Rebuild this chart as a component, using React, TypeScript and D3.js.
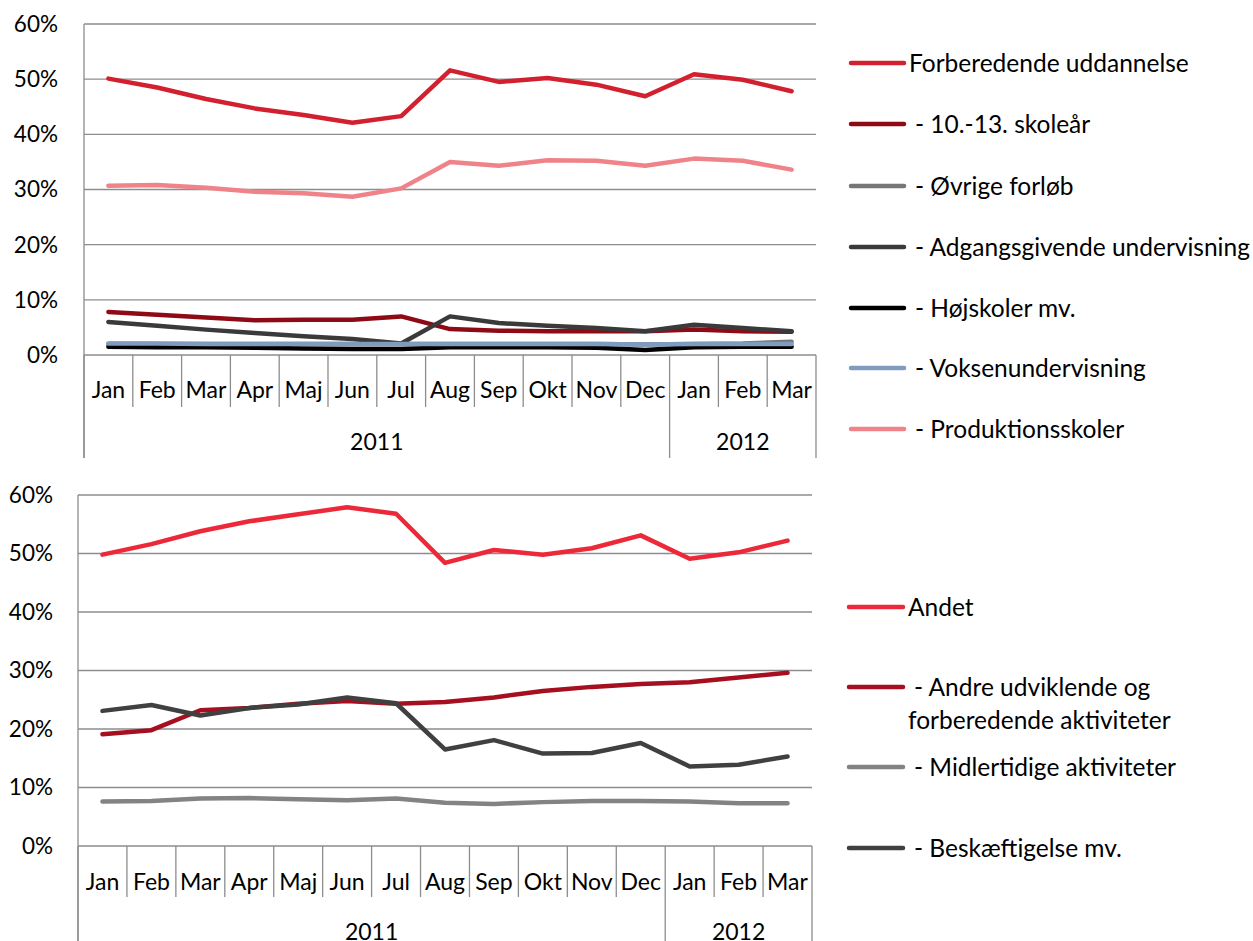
import React from "react";
import * as d3 from "d3";

const months = ["Jan", "Feb", "Mar", "Apr", "Maj", "Jun", "Jul", "Aug", "Sep", "Okt", "Nov", "Dec", "Jan", "Feb", "Mar"];
const years = [
  { label: "2011", start: 0, end: 12 },
  { label: "2012", start: 12, end: 15 },
];
const yTicks = [0, 10, 20, 30, 40, 50, 60];

// Top chart series (percent)
const forberedende = [50.1, 48.5, 46.4, 44.7, 43.5, 42.1, 43.3, 51.6, 49.5, 50.2, 49.0, 46.9, 50.9, 49.9, 47.8];
const skolear = [7.8, 7.3, 6.8, 6.3, 6.4, 6.4, 7.0, 4.7, 4.4, 4.3, 4.3, 4.3, 4.6, 4.3, 4.2];
const ovrige = [2.0, 2.0, 2.0, 2.0, 2.0, 2.0, 2.0, 2.0, 2.0, 2.0, 2.0, 1.9, 2.0, 2.1, 2.4];
const adgangs = [6.0, 5.3, 4.6, 4.0, 3.4, 2.9, 2.1, 7.0, 5.8, 5.3, 4.9, 4.3, 5.5, 4.9, 4.3];
const hojskoler = [1.5, 1.4, 1.4, 1.3, 1.2, 1.1, 1.1, 1.4, 1.4, 1.4, 1.3, 0.9, 1.4, 1.5, 1.5];
const voksen = [2.1, 2.1, 2.0, 2.0, 2.0, 2.0, 2.0, 2.0, 2.0, 2.0, 2.0, 1.9, 2.0, 2.0, 2.0];
const produktion = [30.7, 30.8, 30.3, 29.6, 29.3, 28.7, 30.2, 35.0, 34.3, 35.3, 35.2, 34.3, 35.6, 35.2, 33.6];

// Bottom chart series (percent)
const andet = [49.8, 51.6, 53.8, 55.5, 56.7, 57.9, 56.8, 48.4, 50.6, 49.8, 50.9, 53.1, 49.1, 50.2, 52.2];
const andre = [19.1, 19.8, 23.2, 23.6, 24.3, 24.8, 24.3, 24.6, 25.4, 26.5, 27.2, 27.7, 28.0, 28.8, 29.6];
const midlertidige = [7.6, 7.7, 8.1, 8.2, 8.0, 7.8, 8.1, 7.4, 7.2, 7.5, 7.7, 7.7, 7.6, 7.3, 7.3];
const beskaeftigelse = [23.1, 24.1, 22.3, 23.6, 24.2, 25.4, 24.4, 16.5, 18.1, 15.8, 15.9, 17.6, 13.6, 13.9, 15.3];

type Series = { name: string[]; values: number[]; color: string; legendY: number };

const topSeries: Series[] = [
  { name: ["Forberedende uddannelse"], values: forberedende, color: "#d2202f", legendY: 63 },
  { name: ["- 10.-13. skoleår"], values: skolear, color: "#8e0b16", legendY: 124 },
  { name: ["- Øvrige forløb"], values: ovrige, color: "#767676", legendY: 186 },
  { name: ["- Adgangsgivende undervisning"], values: adgangs, color: "#3a3a3a", legendY: 247 },
  { name: ["- Højskoler mv."], values: hojskoler, color: "#000000", legendY: 308 },
  { name: ["- Voksenundervisning"], values: voksen, color: "#7f9bc0", legendY: 368 },
  { name: ["- Produktionsskoler"], values: produktion, color: "#ef8389", legendY: 429 },
];

const bottomSeries: Series[] = [
  { name: ["Andet"], values: andet, color: "#ec2939", legendY: 607 },
  { name: ["- Andre udviklende og", "forberedende aktiviteter"], values: andre, color: "#a50f1f", legendY: 687 },
  { name: ["- Midlertidige aktiviteter"], values: midlertidige, color: "#838383", legendY: 767 },
  { name: ["- Beskæftigelse mv."], values: beskaeftigelse, color: "#404040", legendY: 848 },
];

const FONT = "Lato, Carlito, Calibri, sans-serif";
const FS_Y = 22.5;
const FS_X = 23;
const FS_LEG = 24.5;
const GRID = "#8d8d8d";

type PanelProps = {
  left: number; right: number; top: number; bottom: number;
  tickBottom: number; yearLineBottom: number; monthY: number; yearY: number;
  labelRight: number; series: Series[]; legendLineX0: number; legendLineX1: number; legendTextX: number;
};

function Panel(p: PanelProps) {
  const x = d3.scaleBand<number>().domain(d3.range(months.length)).range([p.left, p.right]).paddingInner(0).paddingOuter(0);
  const y = d3.scaleLinear().domain([0, 60]).range([p.bottom, p.top]);
  const line = d3.line<number>()
    .x((_, i) => (x(i) as number) + x.bandwidth() / 2)
    .y((v) => y(v));
  const bounds = d3.range(months.length + 1).map((i) => (i < months.length ? (x(i) as number) : p.right));
  return (
    <g>
      {yTicks.map((t) => (
        <g key={t}>
          <line x1={p.left} x2={p.right} y1={y(t)} y2={y(t)} stroke={GRID} strokeWidth={1.3} />
          <text x={p.labelRight} y={y(t)} dy="0.35em" textAnchor="end" fontFamily={FONT} fontSize={FS_Y} fill="#000">
            {t}%
          </text>
        </g>
      ))}
      <line x1={p.left} x2={p.left} y1={p.top} y2={p.yearLineBottom} stroke={GRID} strokeWidth={1.3} />
      {bounds.map((b, i) => {
        const isYear = years.some((yr) => yr.start === i || yr.end === i);
        return (
          <line key={i} x1={b} x2={b} y1={p.bottom} y2={isYear ? p.yearLineBottom : p.tickBottom} stroke={GRID} strokeWidth={1.3} />
        );
      })}
      {months.map((m, i) => (
        <text key={i} x={(x(i) as number) + x.bandwidth() / 2} y={p.monthY} dy="0.35em" textAnchor="middle" fontFamily={FONT} fontSize={FS_X} fill="#000">
          {m}
        </text>
      ))}
      {years.map((yr) => (
        <text key={yr.label} x={(bounds[yr.start] + bounds[yr.end]) / 2} y={p.yearY} dy="0.35em" textAnchor="middle" fontFamily={FONT} fontSize={FS_X} fill="#000">
          {yr.label}
        </text>
      ))}
      {p.series.map((s, k) => (
        <path key={k} d={line(s.values) || ""} fill="none" stroke={s.color} strokeWidth={4.5} strokeLinejoin="round" strokeLinecap="round" />
      ))}
      {p.series.map((s, k) => (
        <g key={"l" + k}>
          <line x1={p.legendLineX0} x2={p.legendLineX1} y1={s.legendY} y2={s.legendY} stroke={s.color} strokeWidth={4.5} strokeLinecap="round" />
          {s.name.map((n, j) => (
            <text key={j} x={n.startsWith("-") ? p.legendTextX + 6 : p.legendTextX} y={s.legendY + j * 33} dy="0.35em" fontFamily={FONT} fontSize={FS_LEG} fill="#000">
              {n}
            </text>
          ))}
        </g>
      ))}
    </g>
  );
}

export default function App() {
  return (
    <svg width={1253} height={941} style={{ position: "absolute", left: 0, top: 0, background: "#fff" }}>
      <rect width={1253} height={941} fill="#fff" />
      <Panel left={84} right={816} top={24} bottom={355} tickBottom={407} yearLineBottom={458} monthY={390} yearY={442}
        labelRight={58} series={topSeries} legendLineX0={851} legendLineX1={904} legendTextX={909} />
      <Panel left={78} right={812} top={495} bottom={846} tickBottom={897} yearLineBottom={945} monthY={882} yearY={932}
        labelRight={53} series={bottomSeries} legendLineX0={849} legendLineX1={903} legendTextX={908} />
    </svg>
  );
}
